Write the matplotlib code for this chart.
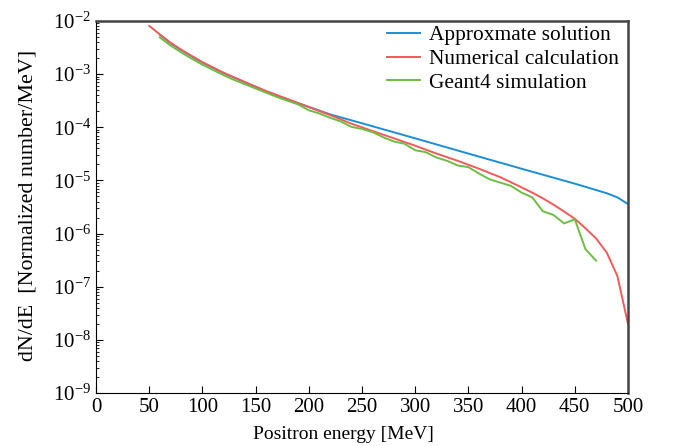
import matplotlib
matplotlib.use("Agg")
import matplotlib.pyplot as plt
from matplotlib.ticker import LogLocator

plt.rcParams['font.family'] = ['Liberation Serif', 'DejaVu Serif']
plt.rcParams['mathtext.fontset'] = 'stix'

# approximate solution
approx_e = [60, 70, 80, 90, 100, 120, 140, 160, 180, 200, 220, 250, 300,
            350, 400, 450, 470, 480, 490, 500]
approx_n = [5.5e-3, 3.86e-3, 2.84e-3, 2.16e-3, 1.66e-3, 1.05e-3, 7.0e-4,
            4.73e-4, 3.35e-4, 2.42e-4, 1.75e-4, 1.19e-4, 6.2e-5, 3.2e-5,
            1.66e-5, 8.7e-6, 6.6e-6, 5.75e-6, 4.8e-6, 3.6e-6]

# numerical calculation
num_e = [50, 60, 70, 80, 90, 100, 120, 140, 160, 180, 200, 220, 240, 260,
         280, 300, 320, 340, 360, 380, 400, 410, 420, 430, 440, 450, 460,
         470, 480, 490, 500]
num_n = [8.1e-3, 5.6e-3, 3.9e-3, 2.9e-3, 2.2e-3, 1.68e-3, 1.06e-3, 7.1e-4,
         4.8e-4, 3.4e-4, 2.4e-4, 1.7e-4, 1.17e-4, 8.5e-5, 6.2e-5, 4.5e-5,
         3.2e-5, 2.34e-5, 1.66e-5, 1.15e-5, 7.4e-6, 5.9e-6, 4.6e-6, 3.5e-6,
         2.6e-6, 1.9e-6, 1.26e-6, 8.1e-7, 4.4e-7, 1.6e-7, 2.0e-8]

# geant4 simulation
g4_e = list(range(60, 480, 10))
g4_n = [4.9e-3, 3.47e-3, 2.57e-3, 1.95e-3, 1.51e-3, 1.2e-3, 9.55e-4, 7.76e-4,
        6.46e-4, 5.37e-4, 4.47e-4, 3.72e-4, 3.16e-4, 2.69e-4, 2.09e-4,
        1.82e-4, 1.51e-4, 1.29e-4, 1.02e-4, 9.3e-5, 8.1e-5, 6.5e-5, 5.4e-5,
        4.9e-5, 3.7e-5, 3.4e-5, 2.7e-5, 2.34e-5, 1.91e-5, 1.78e-5, 1.35e-5,
        1.05e-5, 9.1e-6, 7.9e-6, 5.9e-6, 4.8e-6, 2.63e-6, 2.24e-6, 1.55e-6,
        1.86e-6, 5.1e-7, 3.1e-7]

fig = plt.figure(figsize=(6.77, 4.46), dpi=100)
ax = fig.add_axes([0.1418, 0.1188, 0.7858, 0.8341])

ax.plot(approx_e, approx_n, color='#1a8fd4', lw=1.4, label='Approxmate solution')
ax.plot(num_e, num_n, color='#ef5a5a', lw=1.4, label='Numerical calculation')
ax.plot(g4_e, g4_n, color='#6dbd45', lw=1.4, label='Geant4 simulation')

ax.set_yscale('log')
ax.set_xlim(0, 500)
ax.set_ylim(1e-9, 1e-2)
ax.set_xticks(range(0, 501, 50))
ax.yaxis.set_major_locator(LogLocator(base=10, numticks=10))
ax.yaxis.set_minor_locator(LogLocator(base=10, subs=range(2, 10), numticks=20))

ax.tick_params(axis='both', which='both', direction='in', labelsize=15,
               top=False, right=False)
ax.tick_params(axis='both', which='major', length=5)
ax.tick_params(axis='y', which='minor', length=2.5)
ax.tick_params(axis='x', which='minor', bottom=False)

for s in ['top', 'right']:
    ax.spines[s].set_color('#444444')
    ax.spines[s].set_linewidth(1.8)

ax.set_xlabel('Positron energy [MeV]', fontsize=14)
ax.xaxis.set_label_coords(0.466, -0.088)
ax.set_ylabel('dN/dE  [Normalized number/MeV]', fontsize=15.8)
ax.yaxis.set_label_coords(-0.11, 0.503)

ax.legend(loc='upper right', bbox_to_anchor=(0.999, 1.011), frameon=False,
          fontsize=15.4, handlelength=1.55, labelspacing=0.17,
          borderaxespad=0.0, handletextpad=0.42)

fig.savefig('out.png', dpi=100)
